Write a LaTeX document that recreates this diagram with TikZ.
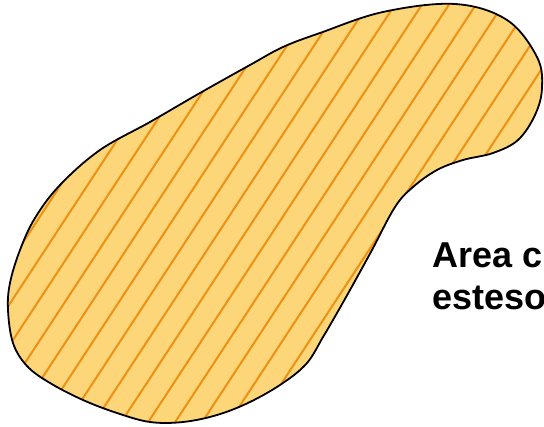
\documentclass[tikz,border=0pt]{standalone}
\usepackage{fontspec}
\setmainfont{Liberation Sans}
\usepackage{tikz}
\usetikzlibrary{positioning}

\definecolor{blobfill}{HTML}{FDD67A}
\definecolor{hatchline}{HTML}{EE9012}

\begin{document}
\begin{tikzpicture}[
    x=1pt, y=-1pt,
    outline/.style={draw=black, line width=1.8pt},
    hatch/.style={draw=hatchline, line width=2pt},
    lbl/.style={font=\fontsize{36}{42}\selectfont\bfseries, inner sep=0pt, anchor=base west},
]

% --- Frame ---
\useasboundingbox (0,0) rectangle (544,427);
\clip (0,0) rectangle (544,427);

% --- Blob ---
\def\blobpath{plot[smooth cycle, tension=0.6] coordinates {
    (455,4) (507,20) (537,57) (542,88) (535,115) (518,140) (493,153)
    (463,160) (437,170) (413,187) (395,207) (372,250) (350,290)
    (333,320) (323,337) (307,363) (283,383) (250,402) (217,415)
    (183,422) (150,422) (117,413) (83,400) (50,383) (27,366)
    (13,343) (8,310) (10,283) (20,250) (35,218) (60,185) (100,150)
    (150,122) (200,93) (250,65) (283,47) (320,33) (383,12)}}

\fill[blobfill] \blobpath;

% hatching inside the blob
\begin{scope}
  \clip \blobpath;
  \foreach \k in {0,...,31} {
    \draw[hatch] ({20+27*\k},0) -- ({20+27*\k-282},430);
  }
\end{scope}

\draw[outline] \blobpath;

% --- Label ---
\node[lbl] (lblA) at (432,268) {Area c};
\node[lbl] (lblB) at ([yshift=-42pt]lblA.base west) {esteso};

\end{tikzpicture}
\end{document}
